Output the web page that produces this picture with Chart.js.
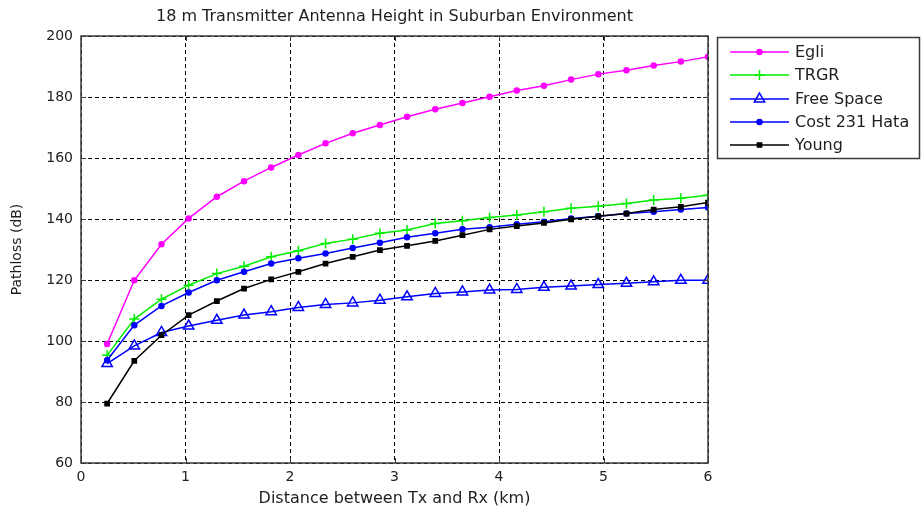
<!DOCTYPE html>
<html>
<head>
<meta charset="utf-8">
<title>18 m Transmitter Antenna Height in Suburban Environment</title>
<script src="https://cdn.jsdelivr.net/npm/chart.js@4.4.0/dist/chart.umd.min.js"></script>
<style>
  html, body { margin: 0; padding: 0; background: #fff; }
  #wrap { width: 921px; height: 512px; }
</style>
</head>
<body>
<div id="wrap"><canvas id="pathloss-chart" width="921" height="512"></canvas></div>
<script>
// Distance samples (km) and path loss values (dB)
const distances = [0.25, 0.51, 0.77, 1.03, 1.30, 1.56, 1.82, 2.08, 2.34, 2.60, 2.86, 3.12,
                   3.39, 3.65, 3.91, 4.17, 4.43, 4.69, 4.95, 5.22, 5.48, 5.74, 6.00];
const egli = [99.0, 119.9, 131.7, 140.2, 147.3, 152.4, 156.9, 161.0, 164.8, 168.1, 170.8, 173.5,
              176.0, 178.0, 180.1, 182.1, 183.7, 185.7, 187.5, 188.8, 190.3, 191.6, 193.2];
const trgr = [95.3, 107.2, 113.7, 118.3, 122.1, 124.5, 127.6, 129.6, 132.0, 133.4, 135.3, 136.4,
              138.5, 139.4, 140.5, 141.3, 142.4, 143.5, 144.2, 145.1, 146.2, 146.8, 147.8];
const freeSpace = [92.6, 98.4, 102.8, 104.9, 106.8, 108.5, 109.6, 111.0, 112.0, 112.5, 113.4, 114.5,
                   115.6, 116.1, 116.7, 116.9, 117.6, 118.0, 118.5, 118.9, 119.4, 119.9, 119.9];
const hata = [93.7, 105.2, 111.5, 115.9, 119.9, 122.7, 125.4, 127.1, 128.7, 130.5, 132.2, 134.0,
              135.3, 136.6, 137.3, 138.3, 139.1, 140.2, 140.9, 141.8, 142.4, 143.1, 143.8];
const young = [79.5, 93.5, 101.9, 108.5, 113.1, 117.2, 120.2, 122.7, 125.4, 127.6, 129.8, 131.2,
               132.8, 134.7, 136.6, 137.7, 138.7, 139.9, 140.9, 141.8, 143.1, 144.0, 145.4];

const xTicks = [0, 1, 2, 3, 4, 5, 6];
const yTicks = [60, 80, 100, 120, 140, 160, 180, 200];

const FONT = "'DejaVu Sans', 'Liberation Sans', Arial, sans-serif";

function toPoints(values) {
  return values.map((v, i) => ({ x: distances[i], y: v }));
}

/**
 * Matlab-like frame, inward ticks, title and boxed legend
 */
const figurePlugin = {
  id: "figureDecor",
  afterDraw(chart) {
    const ctx = chart.ctx;
    const area = chart.chartArea;
    const xs = chart.scales.x;
    const ys = chart.scales.y;

    ctx.save();

    // axes box
    ctx.strokeStyle = "#3a3a3a";
    ctx.lineWidth = 1.5;
    ctx.setLineDash([]);
    ctx.strokeRect(area.left, area.top, area.right - area.left, area.bottom - area.top);

    // inward tick marks on all four sides
    ctx.lineWidth = 1;
    ctx.beginPath();
    xTicks.forEach((v) => {
      const px = Math.round(xs.getPixelForValue(v)) + 0.5;
      ctx.moveTo(px, area.bottom);
      ctx.lineTo(px, area.bottom - 5);
      ctx.moveTo(px, area.top);
      ctx.lineTo(px, area.top + 5);
    });
    yTicks.forEach((v) => {
      const py = Math.round(ys.getPixelForValue(v)) + 0.5;
      ctx.moveTo(area.left, py);
      ctx.lineTo(area.left + 5, py);
      ctx.moveTo(area.right, py);
      ctx.lineTo(area.right - 5, py);
    });
    ctx.stroke();

    // title
    ctx.fillStyle = "#1e1e1e";
    ctx.font = "16px " + FONT;
    ctx.textAlign = "center";
    ctx.textBaseline = "middle";
    ctx.fillText(
      "18 m Transmitter Antenna Height in Suburban Environment",
      (area.left + area.right) / 2,
      17
    );

    // legend box
    const box = { left: 717, top: 37, width: 202, height: 121 };
    ctx.strokeStyle = "#3a3a3a";
    ctx.lineWidth = 1.5;
    ctx.strokeRect(box.left + 0.5, box.top + 0.5, box.width, box.height);

    const rowY = [52, 75, 99, 122, 145];
    ctx.textAlign = "left";
    chart.data.datasets.forEach((ds, i) => {
      const y = rowY[i];
      ctx.strokeStyle = ds.borderColor;
      ctx.lineWidth = ds.borderWidth;
      ctx.beginPath();
      ctx.moveTo(730, y);
      ctx.lineTo(789, y);
      ctx.stroke();
      drawMarker(ctx, ds, 759.5, y);
      ctx.fillStyle = "#1e1e1e";
      ctx.fillText(ds.label, 795, y + 1);
    });

    ctx.restore();
  },
};

function drawMarker(ctx, ds, x, y) {
  const r = ds.pointRadius;
  ctx.save();
  ctx.strokeStyle = ds.pointBorderColor;
  ctx.fillStyle = ds.pointBackgroundColor;
  ctx.lineWidth = ds.pointBorderWidth;
  ctx.beginPath();
  if (ds.pointStyle === "circle") {
    ctx.arc(x, y, r, 0, Math.PI * 2);
    ctx.fill();
    ctx.stroke();
  } else if (ds.pointStyle === "cross") {
    ctx.moveTo(x - r, y);
    ctx.lineTo(x + r, y);
    ctx.moveTo(x, y - r);
    ctx.lineTo(x, y + r);
    ctx.stroke();
  } else if (ds.pointStyle === "triangle") {
    for (let k = 0; k < 3; k++) {
      const a = k * (2 * Math.PI / 3);
      const px = x + Math.sin(a) * r;
      const py = y - Math.cos(a) * r;
      if (k === 0) ctx.moveTo(px, py);
      else ctx.lineTo(px, py);
    }
    ctx.closePath();
    ctx.stroke();
  } else if (ds.pointStyle === "rect") {
    const s = r * Math.SQRT1_2;
    ctx.rect(x - s, y - s, 2 * s, 2 * s);
    ctx.fill();
    ctx.stroke();
  }
  ctx.restore();
}

function series(label, values, color, style, radius, fill, order) {
  return {
    label: label,
    data: toPoints(values),
    borderColor: color,
    borderWidth: 1.5,
    pointStyle: style,
    pointRadius: radius,
    pointHoverRadius: radius,
    pointBorderColor: color,
    pointBackgroundColor: fill,
    pointBorderWidth: 1.5,
    tension: 0,
    fill: false,
    order: order,
  };
}

document.addEventListener("DOMContentLoaded", function () {
  const ctx = document.getElementById("pathloss-chart");

  new Chart(ctx, {
    type: "line",
    data: {
      datasets: [
        series("Egli", egli, "#ff00ff", "circle", 2.5, "#ff00ff", 4),
        series("TRGR", trgr, "#00ee00", "cross", 5, "#00ee00", 3),
        series("Free Space", freeSpace, "#0000ff", "triangle", 6, "rgba(0,0,0,0)", 2),
        series("Cost 231 Hata", hata, "#0000ff", "circle", 2.5, "#0000ff", 1),
        series("Young", young, "#000000", "rect", 3, "#000000", 0),
      ],
    },
    options: {
      responsive: false,
      animation: false,
      devicePixelRatio: 1,
      layout: {
        padding: { top: 36, right: 213, bottom: 0, left: 0 },
      },
      plugins: {
        legend: { display: false },
        title: { display: false },
        tooltip: { enabled: false },
      },
      scales: {
        x: {
          type: "linear",
          min: 0,
          max: 6,
          afterBuildTicks: (scale) => {
            scale.ticks = xTicks.map((v) => ({ value: v }));
          },
          afterFit: (scale) => {
            scale.height = 49;
          },
          ticks: {
            color: "#222",
            font: { family: FONT, size: 14 },
            padding: 6,
            maxRotation: 0,
            autoSkip: false,
          },
          grid: {
            color: "#000",
            lineWidth: 1,
            drawTicks: false,
          },
          border: { display: false, dash: [4, 3] },
          title: {
            display: true,
            text: "Distance between Tx and Rx (km)",
            color: "#1e1e1e",
            font: { family: FONT, size: 16 },
            padding: { top: 0, bottom: 4 },
          },
        },
        y: {
          type: "linear",
          min: 60,
          max: 200,
          afterBuildTicks: (scale) => {
            scale.ticks = yTicks.map((v) => ({ value: v }));
          },
          afterFit: (scale) => {
            scale.width = 81;
          },
          ticks: {
            color: "#222",
            font: { family: FONT, size: 14 },
            padding: 8,
            autoSkip: false,
          },
          grid: {
            color: "#000",
            lineWidth: 1,
            drawTicks: false,
          },
          border: { display: false, dash: [4, 3] },
          title: {
            display: true,
            text: "Pathloss (dB)",
            color: "#1e1e1e",
            font: { family: FONT, size: 14 },
            padding: { top: 9, bottom: 0 },
          },
        },
      },
    },
    plugins: [figurePlugin],
  });
});
</script>
</body>
</html>
